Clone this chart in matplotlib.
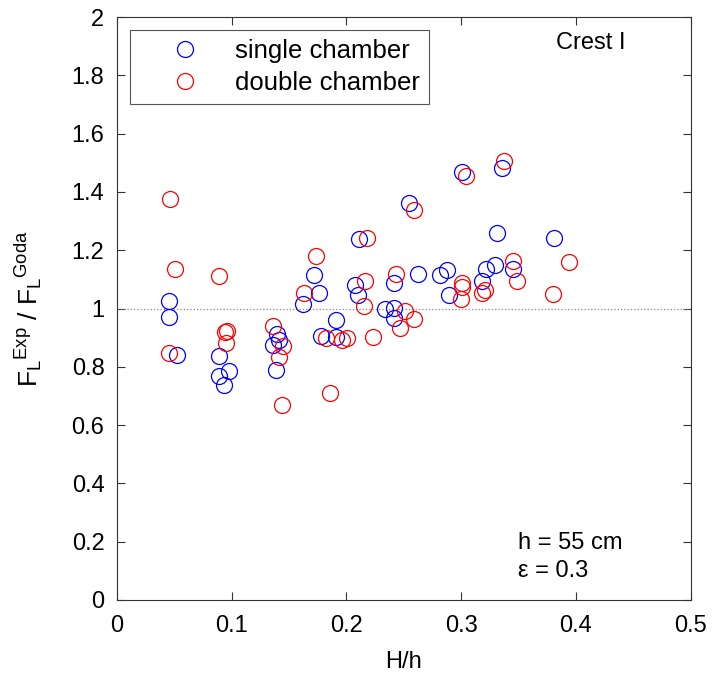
import numpy as np
import matplotlib.pyplot as plt

plt.rcParams['font.family'] = ['Liberation Sans', 'DejaVu Sans']
plt.rcParams['mathtext.fontset'] = 'custom'
plt.rcParams['mathtext.rm'] = 'Liberation Sans'
plt.rcParams['mathtext.it'] = 'Liberation Sans'

# single chamber (H/h, F_exp / F_goda)
H_single = [0.0453, 0.0453, 0.0523, 0.0891, 0.0972, 0.0891, 0.0935, 0.1394, 0.1416,
            0.1359, 0.1385, 0.1713, 0.1620, 0.1765, 0.1777, 0.1910, 0.1910, 0.2113,
            0.2076, 0.2105, 0.2337, 0.2416, 0.2416, 0.2416, 0.2543, 0.2622, 0.2816,
            0.2875, 0.2897, 0.3005, 0.3354, 0.3310, 0.3180, 0.3217, 0.3295, 0.3455,
            0.3810]
F_single = [1.025, 0.971, 0.840, 0.836, 0.785, 0.770, 0.739, 0.911, 0.893,
            0.876, 0.788, 1.116, 1.017, 1.052, 0.907, 0.960, 0.903, 1.237,
            1.082, 1.048, 0.999, 1.002, 0.968, 1.088, 1.363, 1.117, 1.115,
            1.131, 1.048, 1.470, 1.481, 1.258, 1.096, 1.134, 1.148, 1.136,
            1.243]

# double chamber
H_double = [0.0464, 0.0508, 0.0892, 0.0453, 0.0943, 0.0963, 0.0952, 0.1364, 0.1443,
            0.1416, 0.1437, 0.1733, 0.1626, 0.1823, 0.1960, 0.2003, 0.2235, 0.1858,
            0.2178, 0.2163, 0.2154, 0.2511, 0.2590, 0.2468, 0.2433, 0.2592, 0.3005,
            0.3010, 0.2997, 0.3043, 0.3374, 0.3185, 0.3208, 0.3455, 0.3484, 0.3940,
            0.3800]
F_double = [1.375, 1.134, 1.111, 0.848, 0.919, 0.922, 0.880, 0.939, 0.870,
            0.834, 0.668, 1.180, 1.052, 0.898, 0.891, 0.900, 0.903, 0.710,
            1.243, 1.094, 1.008, 0.993, 0.965, 0.934, 1.119, 1.337, 1.088,
            1.073, 1.033, 1.453, 1.506, 1.054, 1.063, 1.163, 1.096, 1.159,
            1.050]

fig = plt.figure(figsize=(7.12, 6.73), dpi=100)
ax = fig.add_axes([0.1643, 0.1085, 0.8057, 0.8662])

ax.plot([0, 0.5], [1, 1], ':', color='#888888', lw=0.9)
ax.plot(H_single, F_single, 'o', mfc='none', mec='#0000ff', ms=11.5, mew=0.9,
        label='single chamber')
ax.plot(H_double, F_double, 'o', mfc='none', mec='#ff0000', ms=11.5, mew=0.9,
        label='double chamber')

ax.set_xlim(0, 0.5)
ax.set_ylim(0, 2)
ax.set_xticks(np.arange(0, 0.51, 0.1))
ax.set_xticklabels(['0', '0.1', '0.2', '0.3', '0.4', '0.5'])
ax.set_yticks(np.arange(0, 2.01, 0.2))
ax.set_yticklabels(['0', '0.2', '0.4', '0.6', '0.8', '1', '1.2', '1.4', '1.6', '1.8', '2'])
ax.tick_params(direction='in', length=6, width=0.8, color='#333333',
               top=True, right=True, labelsize=17)
ax.tick_params(axis='x', pad=11)
ax.tick_params(axis='y', pad=9)
for s in ax.spines.values():
    s.set_color('#333333')
    s.set_linewidth(0.8)

ax.set_xlabel('H/h', fontsize=17, labelpad=10)
ax.set_ylabel(r'$\mathregular{F_L{}^{Exp}\ /\ F_L{}^{Goda}}$', fontsize=19, labelpad=20)

leg = ax.legend(loc='upper left', bbox_to_anchor=(0.022, 0.9777), fontsize=18.5,
                frameon=True, fancybox=False, framealpha=1, edgecolor='#555555',
                handlelength=3.6, handletextpad=0.15, borderpad=0.35,
                labelspacing=0.3, borderaxespad=0)
leg.get_frame().set_linewidth(0.8)

ax.text(0.413, 1.91, 'Crest I', fontsize=17, ha='center', va='center')
ax.text(0.3495, 0.175, 'h = 55 cm', fontsize=17, ha='left', va='baseline')
ax.text(0.3495, 0.08, 'ε = 0.3', fontsize=17, ha='left', va='baseline')

plt.savefig('out.png', dpi=100)
